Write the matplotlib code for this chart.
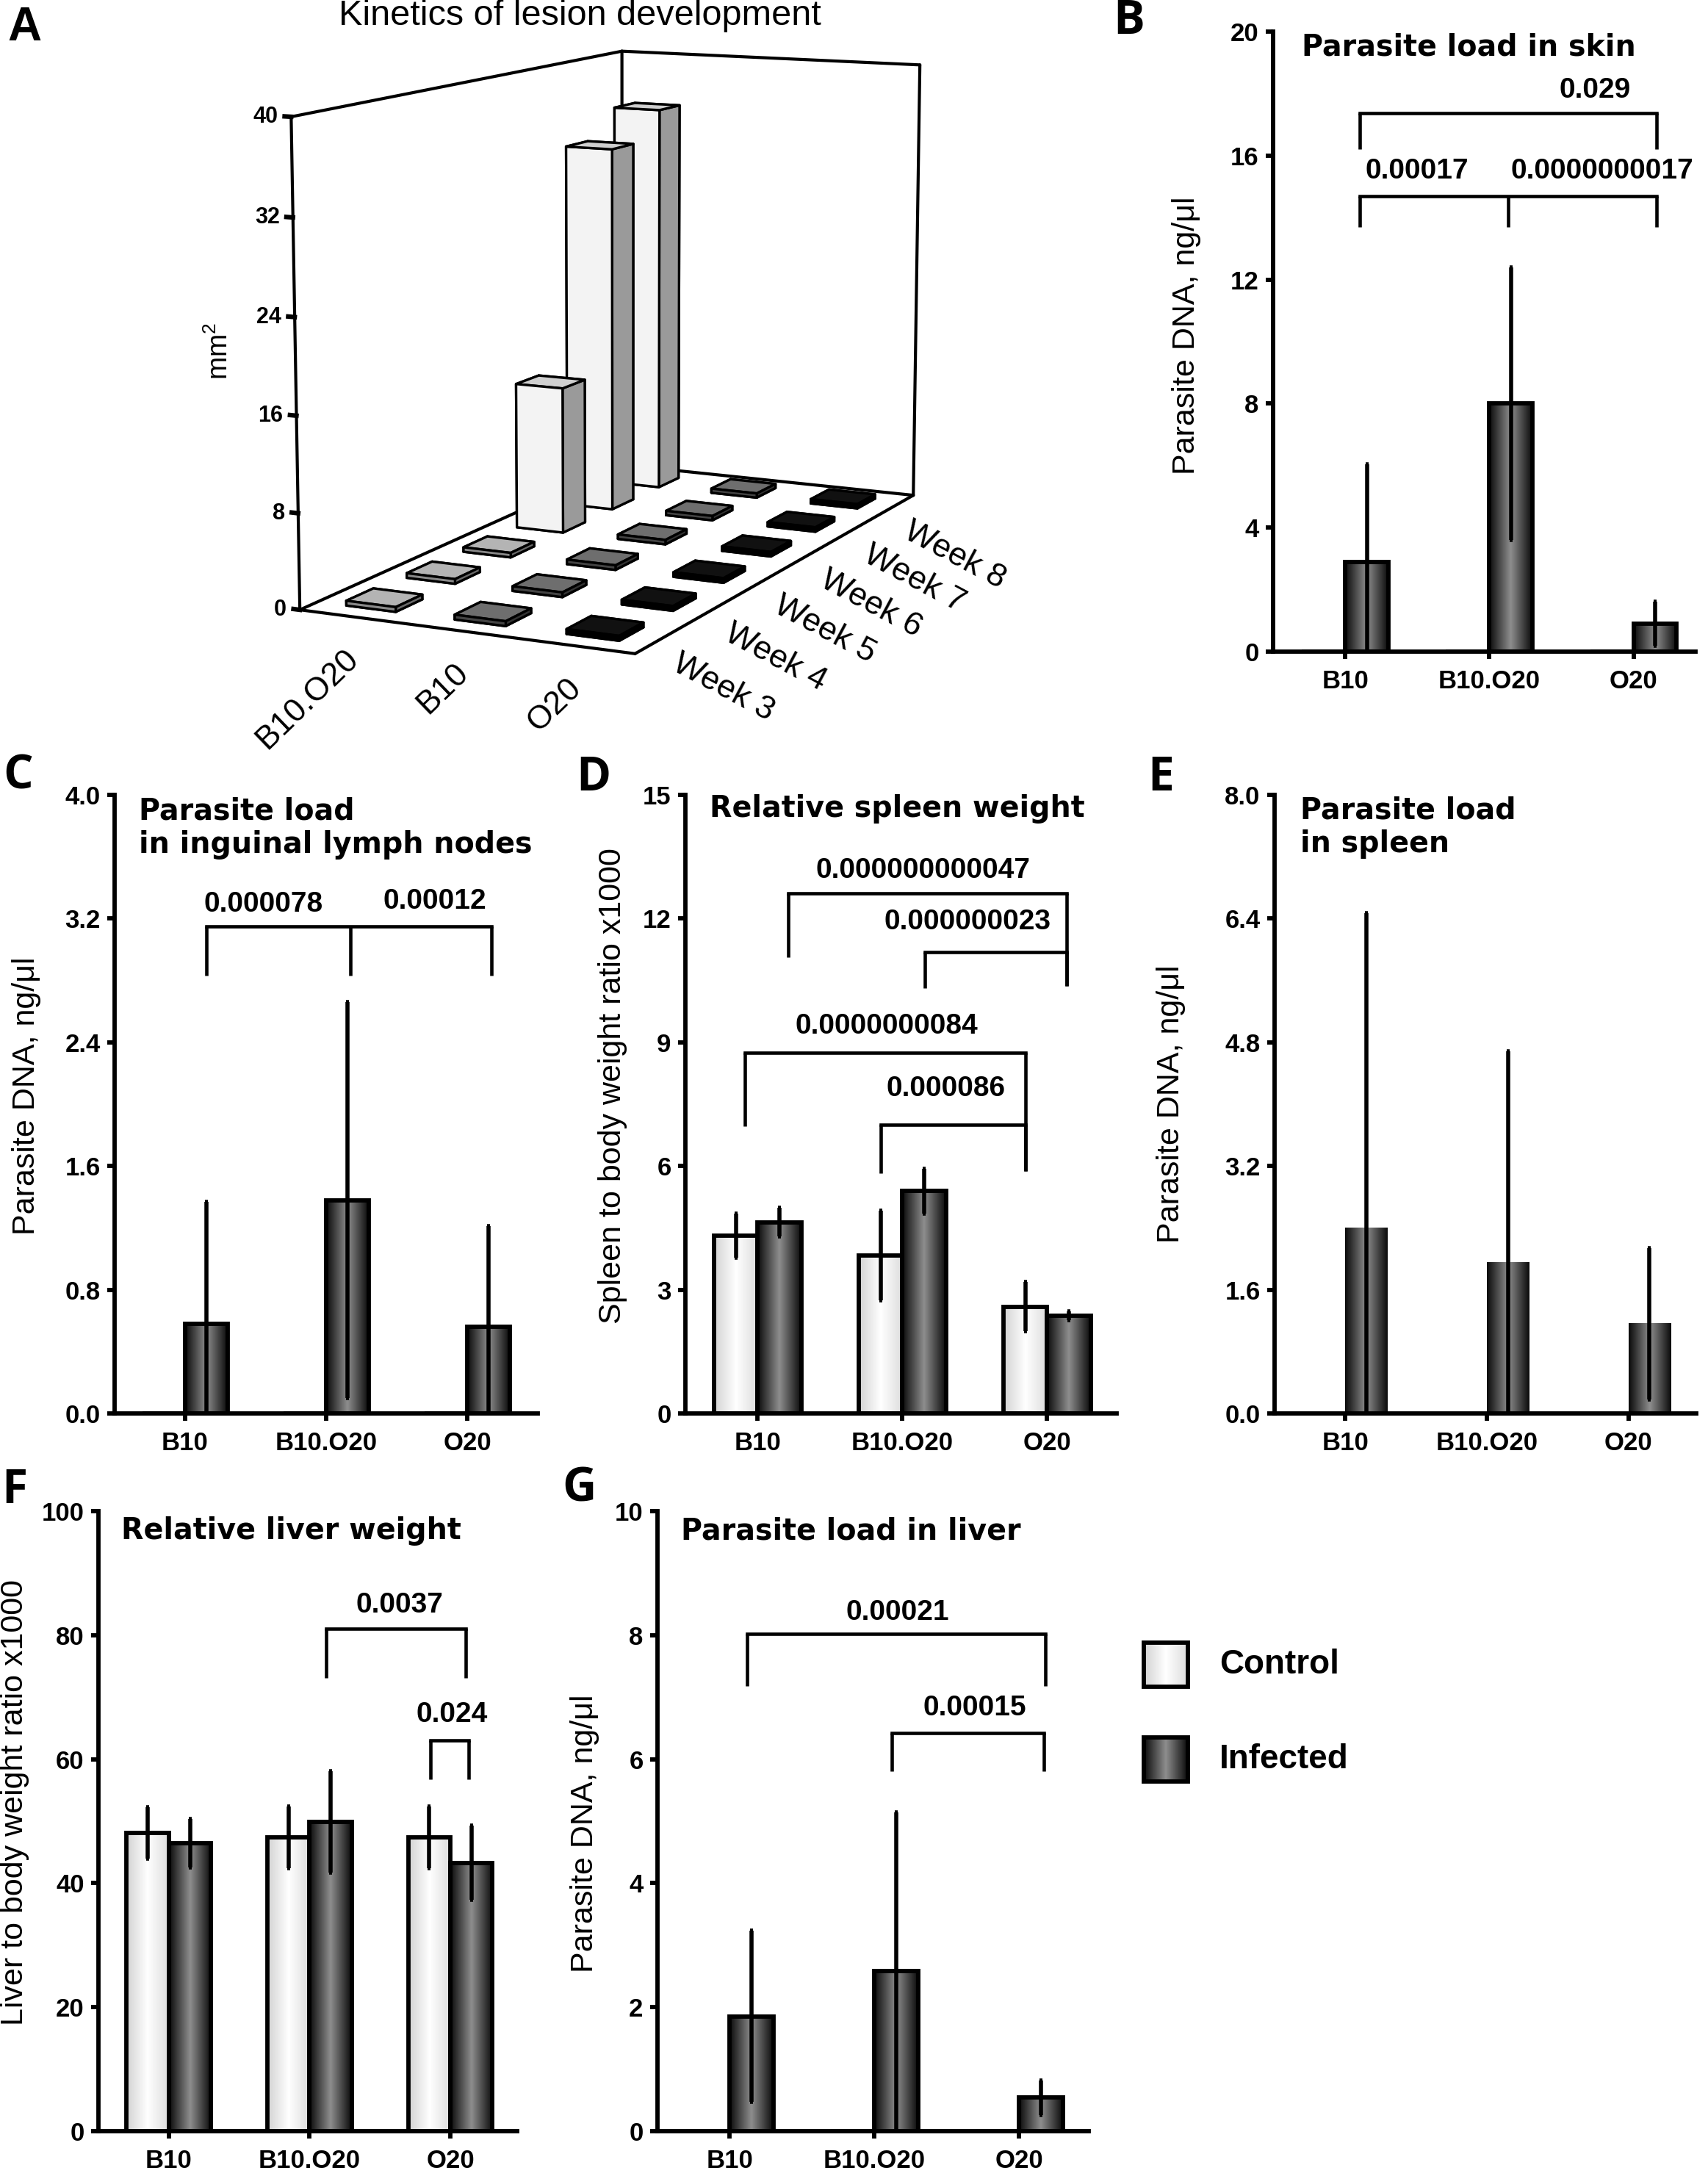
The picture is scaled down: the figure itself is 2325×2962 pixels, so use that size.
import numpy as np
import matplotlib
matplotlib.use("Agg")
import matplotlib.pyplot as plt
from matplotlib.colors import LinearSegmentedColormap
from matplotlib.patches import Rectangle
from mpl_toolkits.mplot3d import proj3d

plt.rcParams["font.family"] = "Liberation Sans"
plt.rcParams["mathtext.default"] = "regular"

W, H = 2325, 2962

# ---- data -------------------------------------------------------------
strains = ["B10", "B10.O20", "O20"]

# A: lesion area (mm2); strains in the order of the 3D category axis
a_strains = ["B10.O20", "B10", "O20"]
a_weeks = ["Week 3", "Week 4", "Week 5", "Week 6", "Week 7", "Week 8"]
a_b10o20 = [0, 0, 0, 13.0, 33.0, 35.5]
a_b10 = [0, 0, 0, 0, 0, 0]
a_o20 = [0, 0, 0, 0, 0, 0]

# B: parasite load in skin (ng/ul)
skin_ctrl = [0, 0, 0]
skin_inf = [2.9, 8.0, 0.9]
skin_inf_err = [3.15, 4.4, 0.7]

# C: parasite load in inguinal lymph nodes
ln_ctrl = [0, 0, 0]
ln_inf = [0.58, 1.38, 0.56]
ln_inf_err = [0.79, 1.28, 0.65]

# D: spleen / body weight x1000
spl_ctrl = [4.31, 3.83, 2.59]
spl_ctrl_err = [0.53, 1.08, 0.59]
spl_inf = [4.64, 5.39, 2.37]
spl_inf_err = [0.35, 0.54, 0.10]

# E: parasite load in spleen
sp_ctrl = [0, 0, 0]
sp_inf = [2.40, 1.95, 1.16]
sp_inf_err = [4.07, 2.73, 0.98]

# F: liver / body weight x1000
liv_ctrl = [48.1, 47.4, 47.4]
liv_ctrl_err = [4.2, 5.0, 5.0]
liv_inf = [46.4, 49.9, 43.3]
liv_inf_err = [3.9, 8.2, 6.0]

# G: parasite load in liver
lv_ctrl = [0, 0, 0]
lv_inf = [1.85, 2.58, 0.54]
lv_inf_err = [1.38, 2.56, 0.28]

# ---- styles -----------------------------------------------------------
GRAD = np.linspace(0, 1, 256)[None, :]
INF_CMAP = LinearSegmentedColormap.from_list("inf", ["#0a0a0a", "#8e8e8e", "#0a0a0a"])
CTRL_CMAP = LinearSegmentedColormap.from_list("ctrl", ["#d2d2d2", "#ffffff", "#dcdcdc"])
LW = 4.2
ELW = 4.0
BLW = 3.3
TITLE_FONT = dict(family="DejaVu Sans", fontweight="bold", fontsize=28.5)


def px_rect(l, t, r, b):
    return [l / W, 1 - b / H, (r - l) / W, (b - t) / H]


fig = plt.figure(figsize=(W / 100, H / 100), dpi=100)


def bracket(ax, xs, y, ends):
    ax.plot([min(xs), max(xs)], [y, y], color="black", lw=BLW, solid_capstyle="projecting", zorder=5)
    for x, e in zip(xs, ends):
        ax.plot([x, x], [y, e], color="black", lw=BLW, solid_capstyle="butt", zorder=5)


def bar_panel(rect, xr, ymax, ystep, fmt, ctrl, inf, inf_err, ctrl_err=None, outline=LW):
    ax = fig.add_axes(px_rect(*rect))
    xs = np.arange(len(strains))
    w = 0.3
    for vals, off, cmap in ((ctrl, -w / 2, CTRL_CMAP), (inf, w / 2, INF_CMAP)):
        bars = ax.bar(xs + off, vals, w, facecolor="none",
                      edgecolor="black" if outline else "none",
                      linewidth=outline, zorder=3)
        for b in bars:
            if b.get_height() > 0:
                x0 = b.get_x()
                ax.imshow(GRAD, cmap=cmap, aspect="auto", interpolation="bilinear",
                          extent=(x0, x0 + b.get_width(), 0, b.get_height()), zorder=2)
    if ctrl_err is not None:
        ax.errorbar(xs - w / 2, ctrl, yerr=ctrl_err, fmt="none", ecolor="black",
                    elinewidth=ELW, capsize=1.5, capthick=ELW, zorder=4)
    ax.errorbar(xs + w / 2, inf, yerr=inf_err, fmt="none", ecolor="black",
                elinewidth=ELW, capsize=1.5, capthick=ELW, zorder=4)
    ax.set_xlim(-0.5, xr)
    ax.set_ylim(0, ymax)
    ticks = np.arange(0, ymax + ystep / 2, ystep)
    ax.set_yticks(ticks, [fmt.format(t) for t in ticks])
    ax.set_xticks(xs, strains)
    for s in ("top", "right"):
        ax.spines[s].set_visible(False)
    for s in ("left", "bottom"):
        ax.spines[s].set_linewidth(LW)
    ax.tick_params(axis="both", direction="out", length=7, width=LW)
    ax.tick_params(axis="y", labelsize=25, pad=7)
    ax.tick_params(axis="x", labelsize=25, pad=10)
    for lab in ax.get_xticklabels() + ax.get_yticklabels():
        lab.set_fontweight("bold")
    return ax


def ylab(ax, text, fx, fy):
    ax.set_ylabel(text, fontsize=31, va="center")
    ax.yaxis.set_label_coords(fx, fy)


# ---- A: 3D lesion kinetics ---------------------------------------------
axA = fig.add_axes(px_rect(228, -120, 1428, 1080), projection="3d", computed_zorder=False)
x0, x1, y0, y1, z1 = -0.5, 2.5, -0.5, 5.5, 40
axA.set_xlim(x0, x1)
axA.set_ylim(y0, y1)
axA.set_zlim(0, z1)
axA.set_axis_off()

# camera: fit elevation / azimuth / perspective / box shape so that the box corners
# land where the reference draws them (pixel positions, y measured from the top)
corners = np.array([(x0, y0, z1), (x0, y0, 0), (x1, y0, 0), (x1, y1, 0), (x1, y1, z1), (x0, y1, z1)])
corner_px = np.array([(399, 159), (406, 830), (864, 890), (1239, 674), (1257, 87), (846, 71)], float)
target = np.column_stack([corner_px[:, 0], H - corner_px[:, 1]])
origin = axA.transData.transform((0.0, 0.0))


def camera_fit(p):
    elev, azim, q, ay, az = p
    axA.view_init(elev=elev, azim=azim)
    axA.set_box_aspect((1.0, ay, az), zoom=1.0)
    axA.set_proj_type("persp", focal_length=1.0 / q)
    xs, ys, _ = proj3d.proj_transform(corners[:, 0], corners[:, 1], corners[:, 2], axA.get_proj())
    qc = axA.transData.transform(np.column_stack([xs, ys])) - origin
    t = target - origin
    qm, tm = qc.mean(0), t.mean(0)
    zoom = ((qc - qm) * (t - tm)).sum() / ((qc - qm) ** 2).sum()
    shift = tm - zoom * qm
    err = ((zoom * qc + shift - t) ** 2).sum()
    return err, zoom, shift


lo = np.array([0.0, -89.0, 0.05, 0.5, 0.5])
hi = np.array([40.0, -30.0, 4.0, 4.0, 3.0])
par = np.array([11.0, -62.0, 1.7, 2.0, 1.35])
step = np.array([2.0, 2.0, 0.3, 0.2, 0.1])
best = camera_fit(par)[0]
for _ in range(80):
    moved = False
    for k in range(len(par)):
        for sgn in (1, -1):
            trial = par.copy()
            trial[k] = np.clip(trial[k] + sgn * step[k], lo[k], hi[k])
            e = camera_fit(trial)[0]
            if e < best:
                best, par, moved = e, trial, True
    if not moved:
        step = step / 2
        if step.max() < 1e-3:
            break

_, zoom, shift = camera_fit(par)
elev, azim, q, ay, az = par
axA.view_init(elev=elev, azim=azim)
axA.set_box_aspect((1.0, ay, az), zoom=zoom)
axA.set_proj_type("persp", focal_length=zoom / q)
pos = axA.get_position()
axA.set_position([pos.x0 + shift[0] / W, pos.y0 + shift[1] / H, pos.width, pos.height])

frame = [
    ((x0, x0), (y0, y0), (0, z1)),
    ((x0, x0), (y0, y1), (z1, z1)),
    ((x0, x0), (y1, y1), (0, z1)),
    ((x0, x0), (y0, y1), (0, 0)),
    ((x0, x1), (y1, y1), (z1, z1)),
    ((x1, x1), (y1, y1), (0, z1)),
    ((x0, x1), (y1, y1), (0, 0)),
    ((x0, x1), (y0, y0), (0, 0)),
    ((x1, x1), (y0, y1), (0, 0)),
]
for fx, fy, fz in frame:
    axA.plot(fx, fy, fz, color="black", lw=3.0, zorder=1, solid_capstyle="round")

# face order in bar3d: bottom, top, front(-y), back(+y), left(-x), right(+x)
palette = {
    "B10.O20": dict(tall=("#cfcfcf", "#f3f3f3", "#9a9a9a"), tile=("#b4b4b4", "#8a8a8a", "#6a6a6a")),
    "B10": dict(tall=("#6e6e6e", "#505050", "#3a3a3a"), tile=("#6e6e6e", "#444444", "#333333")),
    "O20": dict(tall=("#111111", "#000000", "#000000"), tile=("#111111", "#000000", "#000000")),
}
dx, dy, tile_h = 0.46, 0.44, 0.4
bx, by, bh, fcols = [], [], [], []
for i, (name, vals) in enumerate(zip(a_strains, (a_b10o20, a_b10, a_o20))):
    for j, v in enumerate(vals):
        kind = "tall" if v > tile_h else "tile"
        top, front, side = palette[name][kind]
        bx.append(i - dx / 2)
        by.append(j - dy / 2)
        bh.append(max(v, tile_h))
        fcols += [front, top, front, front, front, side]
axA.bar3d(bx, by, np.zeros(len(bx)), dx, dy, bh, color=fcols, shade=False,
          edgecolor="black", linewidth=2.4, zorder=3)

M = axA.get_proj()


def p2(x, y, z):
    xs, ys, _ = proj3d.proj_transform(x, y, z, M)
    return float(xs), float(ys)


for z in range(0, 41, 8):
    axA.plot([x0 - 0.06, x0], [y0, y0], [z, z], color="black", lw=4.5, zorder=2)
    axA.annotate(str(z), p2(x0, y0, z), xytext=(-13, 0), textcoords="offset points",
                 ha="right", va="center", fontsize=22, fontweight="bold",
                 annotation_clip=False, zorder=6)
for j, wk in enumerate(a_weeks):
    axA.annotate(wk, p2(x1, j, 0), xytext=(19, -10), textcoords="offset points",
                 ha="left", va="top", rotation=-28, rotation_mode="anchor", fontsize=32,
                 annotation_clip=False, zorder=6)
for i, name in enumerate(a_strains):
    axA.annotate(name, p2(i, y0, 0), xytext=(-10, -26), textcoords="offset points",
                 ha="right", va="top", rotation=44, rotation_mode="anchor", fontsize=32,
                 annotation_clip=False, zorder=6)

fig.text(789 / W, 1 - 22 / H, "Kinetics of lesion development", ha="center", va="center", fontsize=35)
fig.text(299 / W, 1 - 478 / H, "mm$^2$", ha="center", va="center", rotation=90, fontsize=27)

# ---- B ----------------------------------------------------------------
axB = bar_panel((1733, 43, 2308, 887), 2.43, 20, 4, "{:.0f}", skin_ctrl, skin_inf, skin_inf_err)
ylab(axB, "Parasite DNA, ng/\u03bcl", -0.205, 0.51)
axB.text(-0.3, 19.5, "Parasite load in skin", ha="left", va="center", **TITLE_FONT)
bracket(axB, [0.10, 2.16], 17.37, [16.2, 16.2])
bracket(axB, [0.10, 1.13, 2.16], 14.7, [13.7, 13.7, 13.7])
for t, x, y in (("0.029", 1.73, 18.1), ("0.00017", 0.5, 15.5), ("0.0000000017", 1.78, 15.5)):
    axB.text(x, y, t, ha="center", va="center", fontsize=28, fontweight="bold")

# ---- C ----------------------------------------------------------------
axC = bar_panel((156, 1082, 732, 1924), 2.50, 4.0, 0.8, "{:.1f}", ln_ctrl, ln_inf, ln_inf_err)
ylab(axC, "Parasite DNA, ng/\u03bcl", -0.208, 0.513)
axC.text(-0.33, 3.785, "Parasite load\nin inguinal lymph nodes", ha="left", va="center",
         linespacing=1.2, **TITLE_FONT)
bracket(axC, [0.15, 1.17, 2.17], 3.15, [2.83, 2.83, 2.83])
for t, x, y in (("0.000078", 0.556, 3.29), ("0.00012", 1.77, 3.31)):
    axC.text(x, y, t, ha="center", va="center", fontsize=28, fontweight="bold")

# ---- D ----------------------------------------------------------------
axD = bar_panel((933, 1082, 1520, 1924), 2.48, 15, 3, "{:.0f}", spl_ctrl, spl_inf, spl_inf_err,
                ctrl_err=spl_ctrl_err)
ylab(axD, "Spleen to body weight ratio x1000", -0.169, 0.53)
axD.text(-0.335, 14.67, "Relative spleen weight", ha="left", va="center", **TITLE_FONT)
bracket(axD, [0.21, 2.135], 12.62, [11.07, 10.36])
bracket(axD, [1.155, 2.135], 11.19, [10.32, 10.36])
bracket(axD, [-0.09, 1.85], 8.74, [6.96, 5.88])
bracket(axD, [0.85, 1.85], 7.01, [5.83, 5.88])
for t, x, y in (("0.000000000047", 1.14, 13.16), ("0.000000023", 1.45, 11.92),
                ("0.0000000084", 0.89, 9.39), ("0.000086", 1.30, 7.87)):
    axD.text(x, y, t, ha="center", va="center", fontsize=28, fontweight="bold")

# ---- E ----------------------------------------------------------------
axE = bar_panel((1735, 1082, 2309, 1924), 2.48, 8.0, 1.6, "{:.1f}", sp_ctrl, sp_inf, sp_inf_err,
                outline=0)
ylab(axE, "Parasite DNA, ng/\u03bcl", -0.246, 0.50)
axE.text(-0.32, 7.58, "Parasite load\nin spleen", ha="left", va="center", linespacing=1.2,
         **TITLE_FONT)

# ---- F ----------------------------------------------------------------
axF = bar_panel((134, 2057, 704, 2901), 2.475, 100, 20, "{:.0f}", liv_ctrl, liv_inf, liv_inf_err,
                ctrl_err=liv_ctrl_err)
ylab(axF, "Liver to body weight ratio x1000", -0.2, 0.53)
axF.text(-0.34, 96.8, "Relative liver weight", ha="left", va="center", **TITLE_FONT)
bracket(axF, [1.12, 2.11], 81.1, [73.1, 73.1])
bracket(axF, [1.86, 2.13], 63.0, [56.8, 56.8])
for t, x, y in (("0.0037", 1.64, 84.8), ("0.024", 2.01, 67.2)):
    axF.text(x, y, t, ha="center", va="center", fontsize=28, fontweight="bold")

# ---- G ----------------------------------------------------------------
axG = bar_panel((895, 2057, 1482, 2901), 2.48, 10, 2, "{:.0f}", lv_ctrl, lv_inf, lv_inf_err)
ylab(axG, "Parasite DNA, ng/\u03bcl", -0.169, 0.48)
axG.text(-0.34, 9.68, "Parasite load in liver", ha="left", va="center", **TITLE_FONT)
bracket(axG, [0.12, 2.18], 8.02, [7.18, 7.18])
bracket(axG, [1.12, 2.17], 6.42, [5.81, 5.81])
for t, x, y in (("0.00021", 1.16, 8.37), ("0.00015", 1.69, 6.83)):
    axG.text(x, y, t, ha="center", va="center", fontsize=28, fontweight="bold")

# ---- legend -----------------------------------------------------------
axL = fig.add_axes(px_rect(1540, 2200, 1900, 2450))
axL.set_axis_off()
for label, cmap, yc in (("Control", CTRL_CMAP, 2266), ("Infected", INF_CMAP, 2395)):
    axL.imshow(GRAD, cmap=cmap, aspect="auto", extent=(1557, 1617, yc + 30, yc - 30), zorder=2)
    axL.add_patch(Rectangle((1557, yc - 30), 60, 60, fc="none", ec="black", lw=LW, zorder=3))
    axL.text(1660, yc, label, ha="left", va="center", fontsize=33, fontweight="bold")
axL.set_xlim(1540, 1900)
axL.set_ylim(2450, 2200)

# ---- panel letters ----------------------------------------------------
for letter, x, y in (("B", 1537, 29), ("C", 25, 1057), ("D", 808, 1060),
                     ("E", 1580, 1060), ("F", 20, 2030), ("G", 788, 2027)):
    fig.text(x / W, 1 - y / H, letter, ha="center", va="center", fontsize=46,
             fontweight="bold", family=["Open Sans", "DejaVu Sans"])
fig.text(33 / W, 1 - 38 / H, "A", ha="center", va="center", fontsize=46, fontweight="bold",
         family=["Liberation Sans Narrow", "Liberation Sans"])

fig.savefig("out.png", dpi=100)
